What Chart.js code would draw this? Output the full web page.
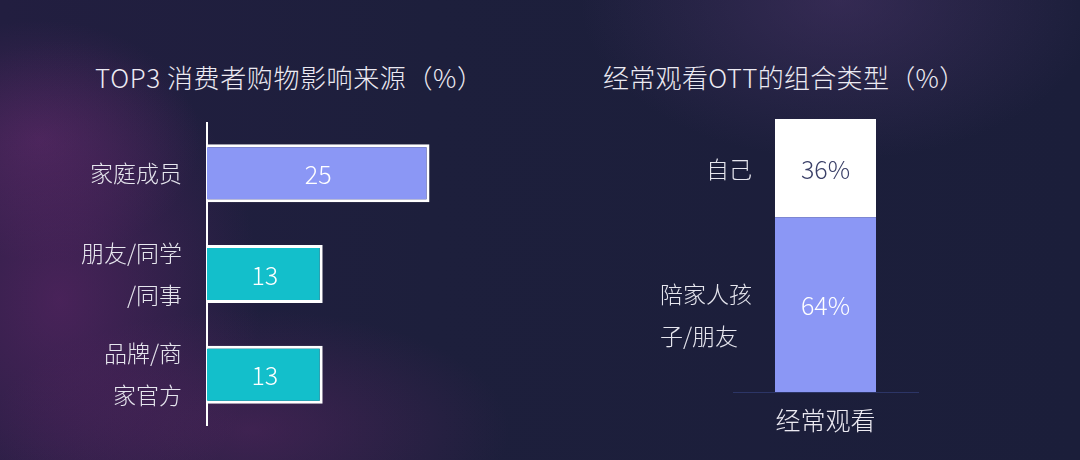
<!DOCTYPE html>
<html>
<head>
<meta charset="utf-8">
<script src="https://cdn.jsdelivr.net/npm/chart.js@4"></script>
<style>
  body{margin:0;}
  #page{
    position:relative;width:1080px;height:460px;overflow:hidden;
    background:
      radial-gradient(ellipse 260px 160px at 840px 0px, rgba(90,60,120,0.40), rgba(0,0,0,0) 100%),
      radial-gradient(ellipse 200px 260px at 60px 300px, rgba(120,40,120,0.45), rgba(0,0,0,0) 100%),
      radial-gradient(ellipse 260px 120px at 250px 430px, rgba(110,40,110,0.40), rgba(0,0,0,0) 100%),
      radial-gradient(ellipse 160px 120px at 40px 140px, rgba(130,50,130,0.35), rgba(0,0,0,0) 100%),
      linear-gradient(90deg, #221e40 0%, #1d1f3c 40%, #1b1e3a 100%);
    font-family:"Noto Sans CJK SC","Noto Sans",sans-serif;
  }
  .title{position:absolute;top:57px;color:#eceaf2;font-size:26px;font-weight:300;white-space:nowrap;line-height:40px;}
  .box{position:absolute;}
</style>
</head>
<body>
<div id="page">
  <div class="title" style="left:95px;letter-spacing:0.6px;">TOP3 消费者购物影响来源（%）</div>
  <div class="title" style="left:603px;letter-spacing:0.3px;">经常观看OTT的组合类型（%）</div>
  <div class="box" style="left:0;top:100px;width:500px;height:340px;"><canvas id="left"></canvas></div>
  <div class="box" style="left:600px;top:100px;width:480px;height:360px;"><canvas id="right"></canvas></div>
</div>
<script>
// 左图：TOP3 消费者购物影响来源
var sources = [["家庭成员"], ["朋友/同学", "/同事"], ["品牌/商", "家官方"]];
var sourceValues = [25, 13, 13];
var sourceColors = ["#8b97f5", "#13bfcb", "#13bfcb"];

// 右图：经常观看OTT的组合类型
var watchCategories = ["经常观看"];
var groupNames = [["陪家人孩", "子/朋友"], ["自己"]];
var groupValues = [64, 36];
var groupColors = ["#8b97f5", "#ffffff"];
var groupLabelColors = ["#ffffff", "#3b4068"];

var FONT = '"Noto Sans CJK SC","Noto Sans",sans-serif';

// 柱内数值
var valueLabels = {
  id: "valueLabels",
  afterDatasetsDraw: function(chart, args, opts) {
    var ctx = chart.ctx;
    ctx.save();
    ctx.font = "300 25px " + FONT;
    ctx.textAlign = "center";
    ctx.textBaseline = "middle";
    chart.data.datasets.forEach(function(ds, di) {
      chart.getDatasetMeta(di).data.forEach(function(bar, i) {
        var c = bar.getCenterPoint();
        ctx.fillStyle = ds.labelColor || "#ffffff";
        ctx.fillText(ds.data[i] + (opts.suffix || ""), c.x, c.y + 1);
      });
    });
    ctx.restore();
  }
};

new Chart(document.getElementById("left"), {
  type: "bar",
  data: {
    labels: sources,
    datasets: [{
      data: sourceValues,
      backgroundColor: sourceColors,
      borderColor: "#ffffff",
      borderWidth: 3,
      barPercentage: 0.72,
      categoryPercentage: 0.8
    }]
  },
  options: {
    indexAxis: "y",
    responsive: true,
    maintainAspectRatio: false,
    animation: false,
    layout: {padding: {top: 23, bottom: 15, right: 26, left: 0}},
    plugins: {legend: {display: false}, tooltip: {enabled: false}, valueLabels: {suffix: ""}},
    scales: {
      x: {display: false, min: 0, max: 30},
      y: {
        grid: {display: false},
        border: {display: true, color: "#ffffff", width: 2},
        ticks: {color: "#e6e6ee", padding: 17, font: {family: FONT, size: 23, weight: 300, lineHeight: 1.82}},
        afterFit: function(s) { s.width = 207; s.paddingTop = 0; s.paddingBottom = 0; }
      }
    }
  },
  plugins: [valueLabels]
});

// 右图左侧分组名称
var groupNamesPlugin = {
  id: "groupNames",
  afterDatasetsDraw: function(chart) {
    var ctx = chart.ctx, y = chart.scales.y;
    ctx.save();
    ctx.font = "300 23px " + FONT;
    ctx.fillStyle = "#e6e6ee";
    ctx.textAlign = "left";
    ctx.textBaseline = "middle";
    var base = 0;
    chart.data.datasets.forEach(function(ds, di) {
      var bar = chart.getDatasetMeta(di).data[0];
      var lines = groupNames[di];
      var w = 0;
      lines.forEach(function(t) { w = Math.max(w, ctx.measureText(t).width); });
      var left = bar.x - bar.width / 2 - 23 - w;
      var cy = y.getPixelForValue(base + ds.data[0] / 2) + (lines.length > 1 ? 11 : 1);
      var lh = 42;
      lines.forEach(function(t, k) {
        ctx.fillText(t, left, cy + (k - (lines.length - 1) / 2) * lh);
      });
      base += ds.data[0];
    });
    ctx.restore();
  }
};

new Chart(document.getElementById("right"), {
  type: "bar",
  data: {
    labels: watchCategories,
    datasets: groupValues.map(function(v, i) {
      return {
        data: [v],
        backgroundColor: groupColors[i],
        labelColor: groupLabelColors[i],
        borderWidth: 0,
        barPercentage: 0.546,
        categoryPercentage: 1
      };
    })
  },
  options: {
    responsive: true,
    maintainAspectRatio: false,
    animation: false,
    layout: {padding: {top: 19, bottom: 8, left: 133, right: 162}},
    plugins: {legend: {display: false}, tooltip: {enabled: false}, valueLabels: {suffix: "%"}},
    scales: {
      x: {
        stacked: true,
        grid: {display: false},
        border: {display: true, color: "#2c3566", width: 1},
        ticks: {color: "#eceaf2", padding: 5, font: {family: FONT, size: 25, weight: 300}},
        afterFit: function(s) { s.height = 60; }
      },
      y: {stacked: true, display: false, min: 0, max: 100}
    }
  },
  plugins: [valueLabels, groupNamesPlugin]
});
</script>
</body>
</html>
